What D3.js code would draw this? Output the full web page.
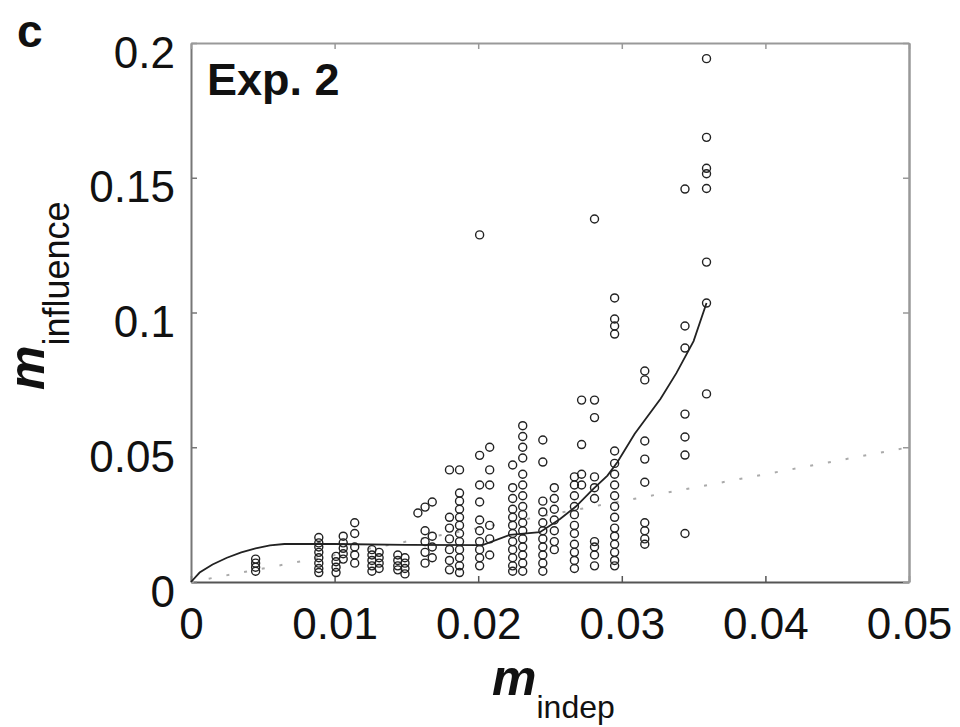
<!DOCTYPE html>
<html>
<head>
<meta charset="utf-8">
<script src="https://cdn.jsdelivr.net/npm/d3@7"></script>
<style>
  body { margin:0; background:#fff; }
  svg { font-family: "Liberation Sans", Arial, Helvetica, sans-serif; }
</style>
</head>
<body>
<div id="chart"></div>
<script>
// x tick values / y tick values
var xTicks = [0, 0.01, 0.02, 0.03, 0.04, 0.05];
var yTicks = [0, 0.05, 0.1, 0.15, 0.2];

// scatter: one m_indep value per column, and the m_influence values in it
var colIndep = [0.0045, 0.0089, 0.0101, 0.0106, 0.0114, 0.0126, 0.0131, 0.0144, 0.0149,
  0.0158, 0.0163, 0.0168, 0.0180, 0.0187, 0.0201, 0.0208, 0.0224, 0.0231, 0.0245,
  0.0253, 0.0267, 0.0272, 0.0281, 0.0295, 0.0316, 0.0344, 0.0359];
var colInfluence = [
  [0.004, 0.0055, 0.007, 0.0085],
  [0.0035, 0.005, 0.007, 0.009, 0.011, 0.013, 0.0145, 0.0165],
  [0.0035, 0.0055, 0.0075, 0.0095],
  [0.0085, 0.0105, 0.0125, 0.0145, 0.017],
  [0.007, 0.010, 0.013, 0.018, 0.022],
  [0.004, 0.006, 0.008, 0.010, 0.012],
  [0.005, 0.007, 0.009, 0.011],
  [0.0045, 0.006, 0.008, 0.010],
  [0.003, 0.005, 0.007, 0.009],
  [0.0256],
  [0.007, 0.011, 0.015, 0.019, 0.0278],
  [0.009, 0.013, 0.017, 0.0297],
  [0.0045, 0.008, 0.012, 0.016, 0.020, 0.024, 0.0416],
  [0.0035, 0.006, 0.009, 0.012, 0.015, 0.018, 0.021, 0.024, 0.027, 0.030, 0.033, 0.0416],
  [0.006, 0.009, 0.012, 0.015, 0.019, 0.023, 0.0297, 0.036, 0.047, 0.1288],
  [0.010, 0.016, 0.021, 0.036, 0.0416, 0.050],
  [0.004, 0.006, 0.009, 0.012, 0.015, 0.018, 0.021, 0.024, 0.027, 0.031, 0.035, 0.0434],
  [0.004, 0.007, 0.010, 0.013, 0.016, 0.019, 0.022, 0.025, 0.028, 0.032, 0.036, 0.040, 0.046, 0.050, 0.054, 0.058],
  [0.004, 0.007, 0.010, 0.013, 0.016, 0.019, 0.022, 0.026, 0.030, 0.0445, 0.0527],
  [0.012, 0.015, 0.019, 0.023, 0.027, 0.031, 0.035],
  [0.005, 0.008, 0.011, 0.014, 0.018, 0.021, 0.025, 0.028, 0.032, 0.036, 0.039],
  [0.036, 0.040, 0.051, 0.0675],
  [0.006, 0.010, 0.013, 0.015, 0.031, 0.035, 0.039, 0.061, 0.0675, 0.1347],
  [0.006, 0.008, 0.011, 0.014, 0.017, 0.020, 0.024, 0.028, 0.032, 0.036, 0.040, 0.044, 0.0486, 0.092, 0.095, 0.0976, 0.1054],
  [0.014, 0.016, 0.019, 0.022, 0.037, 0.0456, 0.0523, 0.075, 0.0783],
  [0.018, 0.0471, 0.0538, 0.0623, 0.0868, 0.095, 0.1458],
  [0.0698, 0.1035, 0.1187, 0.146, 0.1515, 0.1535, 0.165, 0.1942]
];

// solid curve (smoothed fit)
var fitIndep = [0, 0.0006, 0.0015, 0.0025, 0.0035, 0.0045, 0.0055, 0.0065, 0.0100, 0.0150,
  0.0203, 0.0222, 0.0243, 0.0257, 0.0268, 0.0280, 0.0290, 0.0297, 0.0309, 0.0327,
  0.0338, 0.0350, 0.0359];
var fitInfluence = [0, 0.0035, 0.0065, 0.009, 0.011, 0.0125, 0.0136, 0.0141, 0.0141, 0.0138,
  0.0137, 0.0175, 0.0185, 0.0234, 0.0280, 0.0345, 0.0395, 0.0445, 0.0550, 0.0680,
  0.0775, 0.0894, 0.1035];

// dotted diagonal (m_influence = m_indep)
var diagIndep = [0, 0.05];
var diagInfluence = [0, 0.05];

var width = 960, height = 727;
var svg = d3.select("#chart").append("svg")
  .attr("width", width)
  .attr("height", height);
svg.append("rect").attr("width", width).attr("height", height).attr("fill", "#fff");

var x = d3.scaleLinear().domain([0, 0.05]).range([191, 909]);
var y = d3.scaleLinear().domain([0, 0.2]).range([582, 43]);

var fmt = function(d){ return d === 0 ? "0" : String(d); };

// frame + inward ticks on all four sides
svg.append("g")
  .attr("transform", "translate(0," + y(0) + ")")
  .call(d3.axisBottom(x).tickValues(xTicks).tickSizeInner(-6).tickSizeOuter(0).tickPadding(26).tickFormat(fmt))
  .call(function(g){
    g.select(".domain").attr("stroke", "#555").attr("stroke-width", 2);
    g.selectAll(".tick line").attr("stroke", "#555").attr("stroke-width", 1.5);
    g.selectAll(".tick text").attr("font-size", 44).attr("fill", "#111")
      .attr("font-family", "Liberation Sans, Arial, sans-serif");
  });

svg.append("g")
  .attr("transform", "translate(" + x(0) + ",0)")
  .call(d3.axisLeft(y).tickValues(yTicks).tickSizeInner(-6).tickSizeOuter(0).tickPadding(16).tickFormat(fmt))
  .call(function(g){
    g.select(".domain").attr("stroke", "#777").attr("stroke-width", 2);
    g.selectAll(".tick line").attr("stroke", "#777").attr("stroke-width", 1.5);
    g.selectAll(".tick text").attr("font-size", 44).attr("fill", "#111").attr("dy", "0.55em")
      .attr("font-family", "Liberation Sans, Arial, sans-serif");
  });

svg.append("g")
  .attr("transform", "translate(0," + y(0.2) + ")")
  .call(d3.axisTop(x).tickValues(xTicks).tickSizeInner(-6).tickSizeOuter(0).tickFormat(""))
  .call(function(g){
    g.select(".domain").attr("stroke", "#999").attr("stroke-width", 2);
    g.selectAll(".tick line").attr("stroke", "#999").attr("stroke-width", 1.5);
  });

svg.append("g")
  .attr("transform", "translate(" + x(0.05) + ",0)")
  .call(d3.axisRight(y).tickValues(yTicks).tickSizeInner(-6).tickSizeOuter(0).tickFormat(""))
  .call(function(g){
    g.select(".domain").attr("stroke", "#999").attr("stroke-width", 2.5);
    g.selectAll(".tick line").attr("stroke", "#999").attr("stroke-width", 1.5);
  });

// dotted diagonal
var diagLine = d3.line()
  .x(function(d, i){ return x(diagIndep[i]); })
  .y(function(d, i){ return y(diagInfluence[i]); });
svg.append("path")
  .attr("d", diagLine(diagIndep))
  .attr("fill", "none")
  .attr("stroke", "#aaa")
  .attr("stroke-width", 2)
  .attr("stroke-dasharray", "3,15");

// scatter
var points = [];
colIndep.forEach(function(xv, i){
  colInfluence[i].forEach(function(yv){ points.push([xv, yv]); });
});
svg.append("g").selectAll("circle")
  .data(points)
  .enter().append("circle")
  .attr("cx", function(d){ return x(d[0]); })
  .attr("cy", function(d){ return y(d[1]); })
  .attr("r", 4)
  .attr("fill", "none")
  .attr("stroke", "#222")
  .attr("stroke-width", 1.4);

// solid fit line
var fitLine = d3.line()
  .x(function(d, i){ return x(fitIndep[i]); })
  .y(function(d, i){ return y(fitInfluence[i]); });
svg.append("path")
  .attr("d", fitLine(fitIndep))
  .attr("fill", "none")
  .attr("stroke", "#222")
  .attr("stroke-width", 1.8);

// panel letter + experiment label
svg.append("text").attr("x", 17).attr("y", 47)
  .attr("font-size", 46).attr("font-weight", "bold").attr("fill", "#111").text("c");
svg.append("text").attr("x", 207).attr("y", 95)
  .attr("font-size", 45).attr("font-weight", "bold").attr("fill", "#111").text("Exp. 2");

// x axis title
var xt = svg.append("text").attr("x", 492).attr("y", 695).attr("fill", "#111");
xt.append("tspan").attr("font-size", 50).attr("font-weight", "bold").attr("font-style", "italic").text("m");
xt.append("tspan").attr("font-size", 32).attr("dy", 23).text("indep");

// y axis title
var yt = svg.append("text").attr("transform", "translate(44,390) rotate(-90)").attr("fill", "#111");
yt.append("tspan").attr("font-size", 50).attr("font-weight", "bold").attr("font-style", "italic").text("m");
yt.append("tspan").attr("font-size", 36).attr("dy", 25).text("influence");
</script>
</body>
</html>
